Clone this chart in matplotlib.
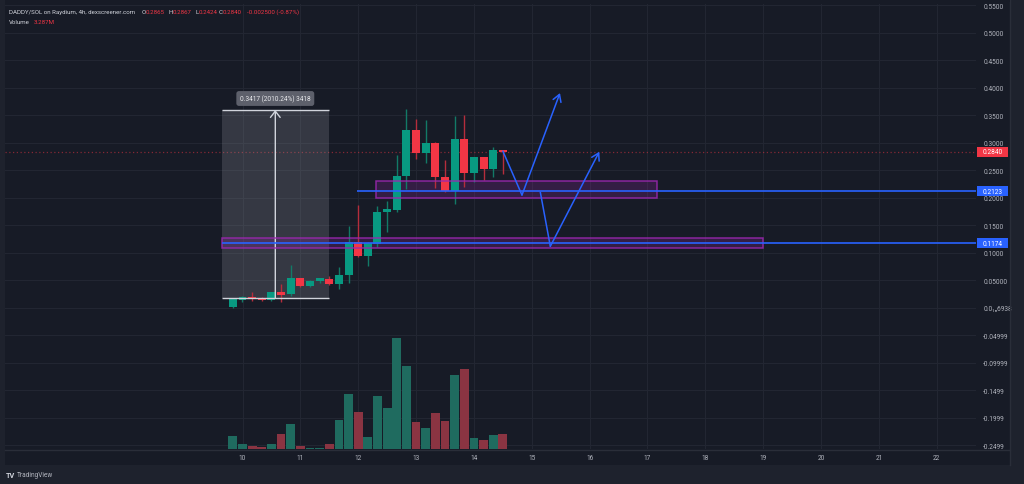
import matplotlib
matplotlib.use('Agg')
import matplotlib.pyplot as plt
from matplotlib.patches import Rectangle
from matplotlib.lines import Line2D
import matplotlib.transforms as mtransforms

plt.rcParams['font.family'] = ['Roboto', 'DejaVu Sans']

# ---------------- data ----------------
first_day = 9.8333          # first 4h candle (day of month)
candle_step = 1 / 6          # 4h candles
opens  = [0.001, 0.015, 0.019, 0.018, 0.015, 0.028, 0.025, 0.054, 0.039, 0.048,
          0.053, 0.043, 0.060, 0.119, 0.095, 0.116, 0.174, 0.178, 0.239, 0.323,
          0.282, 0.300, 0.238, 0.212, 0.307, 0.246, 0.274, 0.252, 0.2865]
highs  = [0.018, 0.022, 0.028, 0.020, 0.029, 0.043, 0.078, 0.055, 0.050, 0.055,
          0.057, 0.074, 0.149, 0.187, 0.119, 0.186, 0.195, 0.277, 0.361, 0.343,
          0.342, 0.301, 0.269, 0.349, 0.350, 0.275, 0.275, 0.292, 0.2867]
lows   = [0.000, 0.011, 0.013, 0.013, 0.013, 0.011, 0.022, 0.038, 0.038, 0.045,
          0.041, 0.034, 0.046, 0.092, 0.076, 0.110, 0.137, 0.174, 0.216, 0.270,
          0.263, 0.217, 0.211, 0.189, 0.219, 0.228, 0.233, 0.237, 0.2424]
closes = [0.016, 0.0196, 0.016, 0.015, 0.028, 0.023, 0.054, 0.039, 0.049, 0.054,
          0.043, 0.060, 0.119, 0.095, 0.117, 0.174, 0.179, 0.239, 0.323, 0.282,
          0.300, 0.237, 0.212, 0.307, 0.246, 0.274, 0.252, 0.287, 0.2840]
volumes_m = [2.91, 1.20, 0.75, 0.45, 1.12, 3.44, 5.53, 0.75, 0.30, 0.22,
             1.20, 6.57, 12.25, 8.22, 2.76, 11.80, 9.19, 24.87, 18.52, 6.13,
             4.71, 8.07, 6.27, 16.58, 17.85, 2.54, 2.02, 3.14, 3.287]

day_ticks = list(range(10, 23))
day_labels = [str(d) for d in day_ticks]
ytick_vals = [0.55, 0.50, 0.45, 0.40, 0.35, 0.30, 0.25, 0.20, 0.15, 0.10, 0.05,
              0.0, -0.05, -0.10, -0.15, -0.20, -0.25]
ytick_labels = ['0.5500', '0.5000', '0.4500', '0.4000', '0.3500', '0.3000', '0.2500',
                '0.2000', '0.1500', '0.1000', '0.05000', '0.0\u2081\u20866938',
                '-0.04999', '-0.09999', '-0.1499', '-0.1999', '-0.2499']

last_price = 0.2840
level_upper = 0.2123
level_lower = 0.1174
zone_upper = (12.308, 17.160, 0.2002, 0.2305)   # x0, x1, y0, y1
zone_lower = (9.651, 18.992, 0.1082, 0.1275)
measure = (9.651, 11.490, 0.0173, 0.3596)
measure_x = 10.567
measure_text = '0.3417 (2010.24%) 3418'
path1_x = [14.50, 14.831, 15.488]
path1_y = [0.285, 0.205, 0.3905]
path2_x = [15.148, 15.321, 16.168]
path2_y = [0.2102, 0.1118, 0.2838]

# ---------------- style ----------------
W, H = 1024, 485
BG = '#171b26'
FRAME = '#1e222d'
GRID = '#222632'
TXT = '#b2b5be'
GREEN = '#089981'
RED = '#f23645'
GREEN_W = '#127a67'
RED_W = '#b52d3c'
VOL_G = '#1f6b5f'
VOL_R = '#8a3442'
BLUE = '#2962ff'
PURPLE = '#9c27b0'
FS = 4.7
HFS = 4.45

fig = plt.figure(figsize=(W / 100, H / 100), dpi=100)
fig.patch.set_facecolor(FRAME)

def fx(px):
    return px / W

def fy(py):
    return 1 - py / H

fig.patches.append(Rectangle((fx(5), fy(466)), fx(1010) - fx(5), fy(0) - fy(466),
                             transform=fig.transFigure, facecolor=BG,
                             edgecolor='none', zorder=-5))

rect = [fx(5), fy(450), fx(976) - fx(5), fy(4.5) - fy(450)]
px_per_day = 57.85
day10_px = 242.5
xlim = (10 + (5 - day10_px) / px_per_day, 10 + (976 - day10_px) / px_per_day)

def price_at(py):
    return 0.25 - (py - 171.3) / 550

ylim = (price_at(450), price_at(4.5))

ax = fig.add_axes(rect, zorder=1)
ax.set_facecolor(BG)
ax.set_xlim(*xlim)
ax.set_ylim(*ylim)
for s in ax.spines.values():
    s.set_visible(False)
ax.yaxis.tick_right()
ax.set_yticks(ytick_vals)
ax.set_yticklabels(ytick_labels)
ax.set_xticks(day_ticks)
ax.set_xticklabels(day_labels)
ax.tick_params(axis='y', length=0, pad=5.2, labelsize=FS, labelcolor=TXT)
ax.tick_params(axis='x', length=0, pad=3.5, labelsize=FS, labelcolor=TXT)
for lab in ax.get_yticklabels():
    lab.set_horizontalalignment('left')
ax.grid(True, color=GRID, lw=0.8)
ax.set_axisbelow(True)

days = [first_day + i * candle_step for i in range(len(opens))]

# candles
cw = 0.138
for d, o, h, l, c in zip(days, opens, highs, lows, closes):
    up = c >= o
    ax.vlines(d, l, h, color=GREEN_W if up else RED_W, lw=1, zorder=3)
    ax.bar(d, max(abs(c - o), 0.0018), bottom=min(o, c), width=cw,
           color=GREEN if up else RED, zorder=4, linewidth=0)

# current price dotted line
ax.axhline(last_price, color=RED, lw=0.9, ls=(0, (1, 2)), alpha=0.5, zorder=2)

# measurement box
mx0, mx1, my0, my1 = measure
ax.add_patch(Rectangle((mx0, my0), mx1 - mx0, my1 - my0, facecolor='#9598a1',
                       alpha=0.24, edgecolor='none', zorder=2))
ax.hlines([my0, my1], mx0, mx1, color='#d1d4dc', lw=1, zorder=5)
ax.annotate('', xy=(measure_x, my1), xytext=(measure_x, my0),
            arrowprops=dict(arrowstyle='->,head_length=0.45,head_width=0.35',
                            color='#d1d4dc', lw=1, shrinkA=0, shrinkB=0), zorder=5)
ax.text(measure_x, price_at(99.5), measure_text, ha='center', va='center',
        fontsize=FS, color='#e8e9ec', zorder=6,
        bbox=dict(boxstyle='round,pad=0.55,rounding_size=0.4', fc='#5d606b', ec='none'))

# zones
for x0, x1, y0, y1 in (zone_upper, zone_lower):
    ax.add_patch(Rectangle((x0, y0), x1 - x0, y1 - y0, facecolor=PURPLE, alpha=0.22,
                           edgecolor='none', zorder=2))
    ax.add_patch(Rectangle((x0, y0), x1 - x0, y1 - y0, facecolor='none',
                           edgecolor=PURPLE, lw=1.1, alpha=0.85, zorder=5))

# levels
ax.hlines(level_upper, 11.979, xlim[1], color=BLUE, lw=1.2, zorder=5)
ax.hlines(level_lower, zone_lower[0], xlim[1], color=BLUE, lw=1.2, zorder=5)

# projected paths
for px_, py_ in ((path1_x, path1_y), (path2_x, path2_y)):
    ax.plot(px_[:2], py_[:2], color=BLUE, lw=1.1, zorder=6, solid_capstyle='round')
    ax.annotate('', xy=(px_[2], py_[2]), xytext=(px_[1], py_[1]),
                arrowprops=dict(arrowstyle='->,head_length=0.5,head_width=0.3',
                                color=BLUE, lw=1.1, shrinkA=0, shrinkB=0), zorder=6)

# right-side price labels
blend = mtransforms.blended_transform_factory(ax.transAxes, ax.transData)
box_w = 31 / (976 - 5)
box_h = 10 / 550
for val, col in ((last_price, RED), (level_upper, BLUE), (level_lower, BLUE)):
    ax.add_patch(Rectangle((1.001, val - box_h / 2), box_w, box_h, transform=blend,
                           facecolor=col, edgecolor='none', clip_on=False, zorder=8))
    ax.text(1.001 + box_w / 2, val, f'{val:.4f}', transform=blend, ha='center',
            va='center', fontsize=FS, color='white', clip_on=False, zorder=9)

# volume overlay
axv = fig.add_axes(rect, zorder=2, sharex=ax)
axv.patch.set_visible(False)
axv.set_ylim(0, 445.5 / (111 / 24.87))
vol_colors = [VOL_G if c >= o else VOL_R for o, c in zip(opens, closes)]
axv.bar(days, volumes_m, width=0.152, color=vol_colors, linewidth=0)
axv.axis('off')
axv.set_xlim(*xlim)

# frame lines
fig.lines.append(Line2D([fx(5), fx(1010)], [fy(450.5), fy(450.5)],
                        transform=fig.transFigure, color='#2a2e39', lw=1))
fig.lines.append(Line2D([fx(1010), fx(1010)], [fy(0), fy(466)],
                        transform=fig.transFigure, color='#2a2e39', lw=1))
fig.patches.append(Rectangle((fx(5), fy(3.2)), fx(1010) - fx(5), fy(0) - fy(3.2),
                             transform=fig.transFigure, facecolor=BG,
                             edgecolor='none', zorder=20))

# header text
hdr_y = fy(12.5)
fig.text(fx(9), hdr_y, 'DADDY/SOL on Raydium, 4h, dexscreener.com', fontsize=HFS,
         color='#d1d4dc', va='center')
for lbl, lx, val, vx in (('O', 141.7, '0.2865', 145.9), ('H', 168.3, '0.2867', 172.5),
                          ('L', 195.0, '0.2424', 198.5), ('C', 218.3, '0.2840', 222.7)):
    fig.text(fx(lx), hdr_y, lbl, fontsize=HFS, color='#d1d4dc', va='center')
    fig.text(fx(vx), hdr_y, val, fontsize=HFS, color=RED, va='center')
fig.text(fx(246.7), hdr_y, '-0.002500 (-0.87%)', fontsize=HFS, color=RED, va='center')
fig.text(fx(9), fy(23), 'Volume', fontsize=HFS, color='#d1d4dc', va='center')
fig.text(fx(33.3), fy(23), '3.287M', fontsize=HFS, color=RED, va='center')

# logo
fig.text(fx(5.5), fy(476), 'TV', fontsize=5.2, color='#d1d4dc', va='center',
         fontweight='bold')
fig.text(fx(16.5), fy(476), 'TradingView', fontsize=FS, color='#b2b5be', va='center')

fig.savefig('out.png', dpi=100, facecolor=FRAME)
